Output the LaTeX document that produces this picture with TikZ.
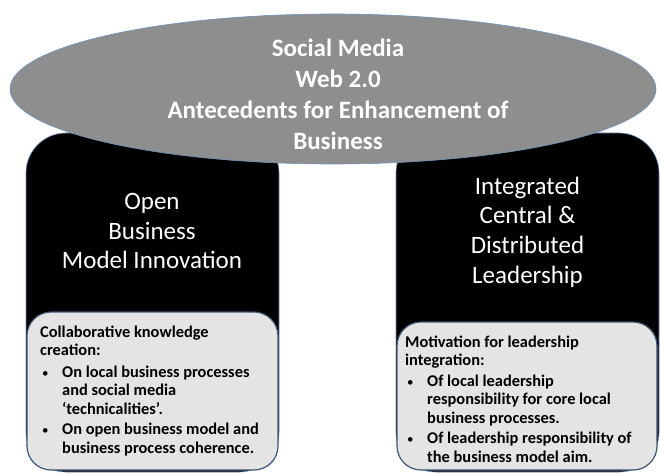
\documentclass[tikz,border=0pt]{standalone}
\usepackage{fontspec}
\setmainfont{Carlito}
\usepackage{xcolor}
\usetikzlibrary{shapes.geometric,positioning}

\definecolor{hubgrey}{HTML}{8E8E8E}
\definecolor{edgeblue}{HTML}{6F91BA}
\definecolor{notefill}{HTML}{E4E4E4}
\definecolor{noteedge}{HTML}{3E5675}

% bullet lines inside the notes
\newcommand{\noteitem}{\makebox[22pt][l]{\hspace{2pt}{\mdseries\fontsize{13}{13}\selectfont\textbullet}}}
\newcommand{\noteindent}{\hspace*{22pt}}

\begin{document}
\begin{tikzpicture}[x=1pt,y=-1pt,
  pillar/.style={rectangle,draw=edgeblue,fill=black,rounded corners=40pt,line width=0.6pt,inner sep=0pt},
  note/.style={rectangle,draw=noteedge,fill=notefill,rounded corners=24pt,line width=1.2pt,inner sep=0pt},
  hub/.style={ellipse,draw=edgeblue,fill=hubgrey,line width=0.6pt,inner sep=0pt},
  title/.style={align=center,text=white,font=\fontsize{25}{29.7}\selectfont},
  hubtitle/.style={align=center,text=white,font=\fontsize{25}{31}\selectfont\bfseries},
  notetext/.style={align=left,anchor=north west,inner sep=0pt,font=\fontsize{16.4}{18.5}\selectfont\bfseries}
]
  \useasboundingbox (0,0) rectangle (660,473);

  % the two pillars
  \node[pillar,minimum width=253pt,minimum height=339pt] (obmi) at (152.5,302.5) {};
  \node[pillar,minimum width=263pt,minimum height=339pt] (lead) at (527.5,302.5) {};
  \node[title] (obmititle) at (152,231) {Open\\Business\\Model Innovation};
  \node[title] (leadtitle) at (527.5,232) {Integrated\\Central \&\\Distributed\\Leadership};

  % notes at the foot of each pillar
  \node[note,minimum width=251pt,minimum height=158pt] (obminote) at (152.5,391) {};
  \node[note,minimum width=260pt,minimum height=148pt] (leadnote) at (527,396) {};
  \node[notetext] (obmitext) at (40,325.5) {Collaborative knowledge\\
    creation:\\[3pt]
    \noteitem On local business processes\\
    \noteindent and social media\\
    \noteindent ‘technicalities’.\\[2pt]
    \noteitem On open business model and\\
    \noteindent business process coherence.};
  \node[notetext] (leadtext) at (405,335.5) {Motivation for leadership\\
    integration:\\[2pt]
    \noteitem Of local leadership\\
    \noteindent responsibility for core local\\
    \noteindent business processes.\\[2pt]
    \noteitem Of leadership responsibility of\\
    \noteindent the business model aim.};

  % grey ellipse over both pillars
  \node[hub,minimum width=646pt,minimum height=150pt] (hub) at (333,89) {};
  \node[hubtitle] (hubtitle) at (338,94) {Social Media\\Web 2.0\\Antecedents for Enhancement of\\Business};
\end{tikzpicture}
\end{document}
